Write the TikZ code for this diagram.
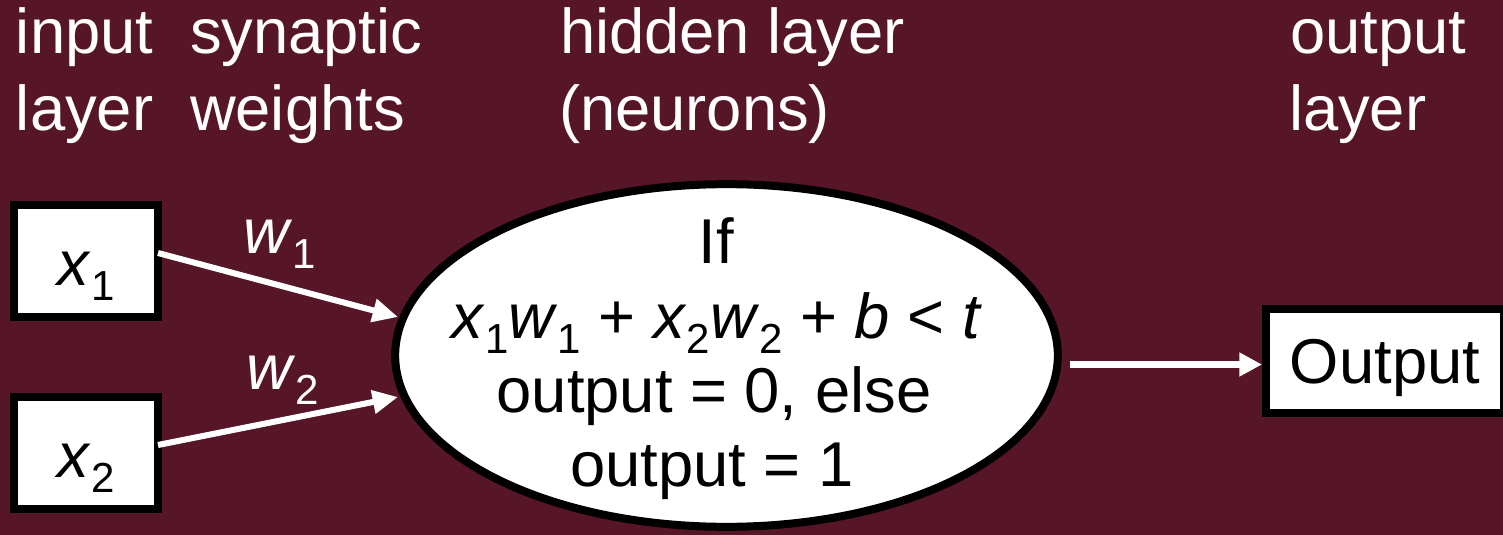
\documentclass[tikz,border=0pt]{standalone}
\usepackage{fontspec}
\setmainfont{Liberation Sans}
\usetikzlibrary{arrows.meta,shapes.geometric}
\definecolor{bgmaroon}{RGB}{87,22,40}
\newcommand\sbs[1]{\raisebox{-0.24em}{\fontsize{31.5pt}{31.5pt}\selectfont #1}}
\begin{document}
\begin{tikzpicture}[x=0.75pt,y=-0.75pt,
  every node/.style={inner sep=0pt, outer sep=0pt, font=\fontsize{47.5pt}{57pt}\selectfont},
  lbl/.style={text=white, anchor=base west},
  etext/.style={text=black, anchor=base},
  inbox/.style={draw=black, fill=white, line width=6pt, minimum width=108pt, minimum height=84pt,
    outer sep=3pt, text height=36pt, text depth=0pt},
  outbox/.style={draw=black, fill=white, line width=6pt, minimum width=178.5pt, minimum height=78pt,
    outer sep=3pt, text height=33pt, text depth=0pt},
  neuron/.style={ellipse, draw=black, fill=white, line width=6pt, minimum width=497pt, minimum height=257pt,
    outer sep=3pt},
  inarrow/.style={draw=white, line width=4.5pt, -{Triangle[length=19pt,width=17pt]}},
  outarrow/.style={draw=white, line width=5.25pt, -{Triangle[length=17pt,width=17pt]}}
]
\fill[bgmaroon] (0,0) rectangle (1503,535);
\useasboundingbox (0,0) rectangle (1503,535);

% top labels
\node[lbl] (l1a) at (16,54) {input};
\node[lbl] (l1b) at (16,131) {layer};
\node[lbl] (l2a) at (190,54) {synaptic};
\node[lbl] (l2b) at (190,131) {weights};
\node[lbl] (l3a) at (560,54) {hidden layer};
\node[lbl] (l3b) at (559,131) {(neurons)};
\node[lbl] (l4a) at (1290,54) {output};
\node[lbl] (l4b) at (1289,131) {layer};

% input boxes
\node[inbox] (x1) at (86,261) {\textit{x}\sbs{1}};
\node[inbox] (x2) at (86,453) {\textit{x}\sbs{2}};

% neuron
\node[neuron] (ell) at (726.5,355.5) {};
\node[etext] (e1) at (716,263) {If};
\node[etext] (e2) at (717,338) {\textit{x}\sbs{1}\textit{w}\sbs{1} + \textit{x}\sbs{2}\textit{w}\sbs{2} + \textit{b} < \textit{t}};
\node[etext] (e3) at (714,412) {output = 0, else};
\node[etext] (e4) at (712,486) {output = 1};

% output box
\node[outbox] (out) at (1385,361) {Output};

% weights labels
\node[lbl] (w1) at (243,253) {\textit{w}\sbs{1}};
\node[lbl] (w2) at (246,389) {\textit{w}\sbs{2}};

% connectors
\coordinate (t1) at (398,317);
\coordinate (t2) at (398,397);
\draw[inarrow] ([shift={(-4,-8)}]x1.east) -- (t1);
\draw[inarrow] ([shift={(-4,-8)}]x2.east) -- (t2);
\draw[outarrow] ([shift={(8,9)}]ell.east) -- ([shift={(0,3.5)}]out.west);
\end{tikzpicture}
\end{document}
